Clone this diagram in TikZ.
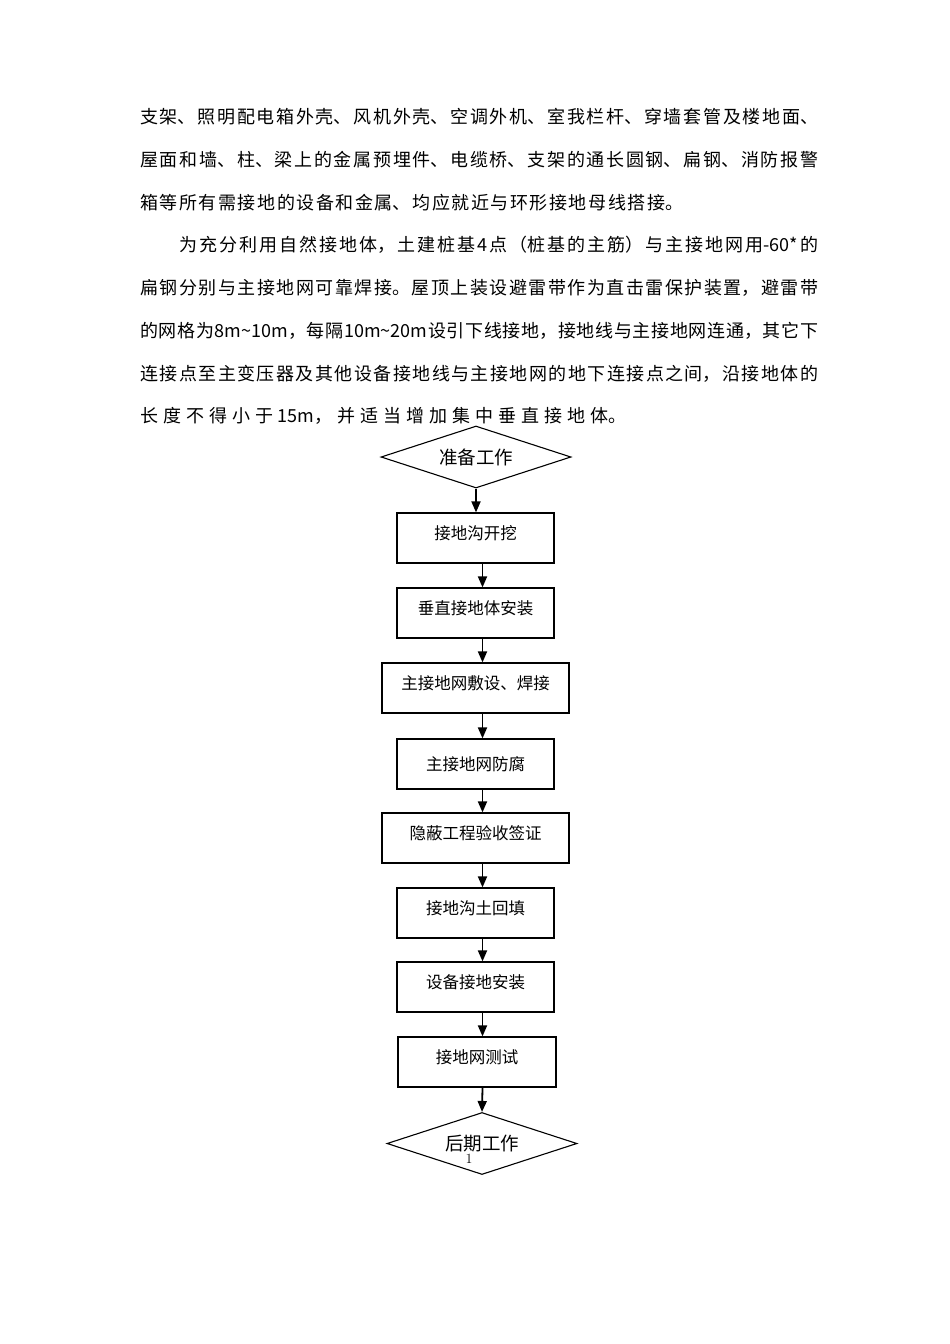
\documentclass[tikz,border=0pt]{standalone}
\usepackage{fontspec}
\newfontfamily\cjk{Noto Sans CJK SC}
\usetikzlibrary{arrows.meta,shapes.geometric}
\newcommand{\jline}[2]{\parbox{#1}{\cjk\XeTeXlinebreaklocale "zh"\XeTeXlinebreakskip=0pt plus 30pt\parfillskip=0pt\parindent=0pt\relax #2}}
\tikzset{
  para/.style={anchor=west,inner sep=0pt,font=\fontsize{18}{21}\selectfont},
  plainbox/.style={draw,line width=1.2pt,minimum height=50pt,inner sep=0pt,font=\cjk\fontsize{16.5}{20}\selectfont},
  stepbox/.style={plainbox,text height=12pt,text depth=10pt},
  decide/.style={draw,diamond,aspect=3,line width=1.1pt,inner sep=0pt,minimum width=190pt,minimum height=62pt,font=\cjk\fontsize{18.5}{22}\selectfont},
  arr/.style={line width=1.8pt,-{Triangle[length=11pt,width=9pt]}}
}
\begin{document}
\begin{tikzpicture}[x=1pt,y=-1pt]
\useasboundingbox[fill=white] (0,0) rectangle (950,1344);
% paragraph text
\node[para] (t1) at (140,117) {\jline{678pt}{支架、照明配电箱外壳、风机外壳、空调外机、室我栏杆、穿墙套管及楼地面、}};
\node[para] (t2) at (140,160) {\jline{678pt}{屋面和墙、柱、梁上的金属预埋件、电缆桥、支架的通长圆钢、扁钢、消防报警}};
\node[para] (t3) at (140,203) {\jline{543pt}{箱等所有需接地的设备和金属、均应就近与环形接地母线搭接。}};
\node[para] (t4) at (179,245) {\jline{639pt}{为充分利用自然接地体，土建桩基4点（桩基的主筋）与主接地网用-60*的}};
\node[para] (t5) at (140,288) {\jline{678pt}{扁钢分别与主接地网可靠焊接。屋顶上装设避雷带作为直击雷保护装置，避雷带}};
\node[para] (t6) at (140,331) {\jline{678pt}{的网格为8m\textasciitilde10m，每隔10m\textasciitilde20m设引下线接地，接地线与主接地网连通，其它下}};
\node[para] (t7) at (140,374) {\jline{678pt}{连接点至主变压器及其他设备接地线与主接地网的地下连接点之间，沿接地体的}};
\node[para] (t8) at (140,416) {\jline{486pt}{长度不得小于15m，并适当增加集中垂直接地体。}};
% flowchart
\node[decide] (d1) at (476,457) {准备工作};
\node[stepbox,minimum width=157pt] (b1) at (475.5,538) {接地沟开挖};
\node[stepbox,minimum width=157pt] (b2) at (475.5,613) {垂直接地体安装};
\node[stepbox,minimum width=187pt] (b3) at (475.5,688) {主接地网敷设、焊接};
\node[plainbox,minimum width=157pt] (b4) at (475.5,764) {主接地网防腐};
\node[stepbox,minimum width=187pt] (b5) at (475.5,838) {隐蔽工程验收签证};
\node[stepbox,minimum width=157pt] (b6) at (475.5,913) {接地沟土回填};
\node[stepbox,minimum width=157pt] (b7) at (475.5,987) {设备接地安装};
\node[stepbox,minimum width=158pt] (b8) at (477,1062) {接地网测试};
\node[decide] (d2) at (482,1143.5) {后期工作};
\node[inner sep=0pt,font=\fontsize{14}{14}\selectfont] (pg) at (469,1159) {1};
% connectors
\draw[arr] (d1.south) -- ([xshift=0.5pt]b1.north);
\draw[arr] ([xshift=7pt]b1.south) -- ([xshift=7pt]b2.north);
\draw[arr] ([xshift=7pt]b2.south) -- ([xshift=7pt]b3.north);
\draw[arr] ([xshift=7pt]b3.south) -- ([xshift=7pt]b4.north);
\draw[arr] ([xshift=7pt]b4.south) -- ([xshift=7pt]b5.north);
\draw[arr] ([xshift=7pt]b5.south) -- ([xshift=7pt]b6.north);
\draw[arr] ([xshift=7pt]b6.south) -- ([xshift=7pt]b7.north);
\draw[arr] ([xshift=7pt]b7.south) -- ([xshift=5.5pt]b8.north);
\draw[arr] ([xshift=5.5pt]b8.south) -- (d2.north);
\end{tikzpicture}
\end{document}
